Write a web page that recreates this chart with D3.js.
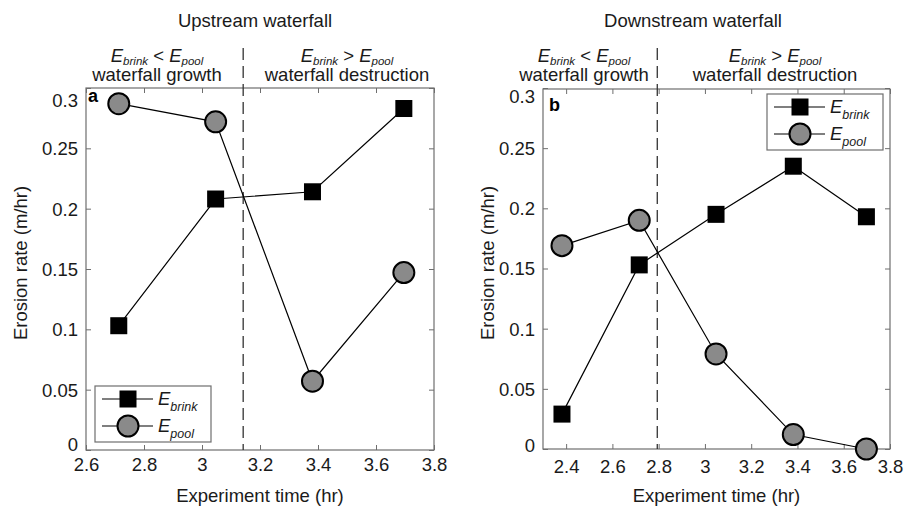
<!DOCTYPE html>
<html>
<head>
<meta charset="utf-8">
<script src="https://cdn.jsdelivr.net/npm/d3@7"></script>
<style>
  html, body { margin: 0; padding: 0; background: #fff; }
  svg { display: block; font-family: "Liberation Sans", Arial, Helvetica, sans-serif; }
</style>
</head>
<body>
<svg id="chart" width="906" height="512"></svg>
<script>
// ---------------- Data ----------------
const upTime    = [2.713, 3.047, 3.381, 3.696];
const upBrink   = [0.103, 0.208, 0.214, 0.283];
const upPool    = [0.287, 0.272, 0.057, 0.147];
const upDivide  = 3.142;

const downTime   = [2.382, 2.716, 3.048, 3.382, 3.698];
const downBrink  = [0.029, 0.153, 0.195, 0.235, 0.193];
const downPool   = [0.169, 0.190, 0.079, 0.012, 0.000];
const downDivide = 2.794;

const yTicks      = [0, 0.05, 0.1, 0.15, 0.2, 0.25, 0.3];
const yTickLabels = ["0", "0.05", "0.1", "0.15", "0.2", "0.25", "0.3"];
const upXTicks      = [2.6, 2.8, 3.0, 3.2, 3.4, 3.6, 3.8];
const upXTickLabels = ["2.6", "2.8", "3", "3.2", "3.4", "3.6", "3.8"];
const downXTicks      = [2.4, 2.6, 2.8, 3.0, 3.2, 3.4, 3.6, 3.8];
const downXTickLabels = ["2.4", "2.6", "2.8", "3", "3.2", "3.4", "3.6", "3.8"];

const titles = ["Upstream waterfall", "Downstream waterfall"];
const xTitle = "Experiment time (hr)";
const yTitle = "Erosion rate (m/hr)";

// ---------------- Drawing ----------------
const svg = d3.select("#chart");
const FS = 18.5;
const AXIS = "#6e6e6e", TXT = "#1a1a1a";

function subText(g, x, y, parts, anchor, subSize, subDy) {
  const t = g.append("text").attr("x", x).attr("y", y)
    .attr("text-anchor", anchor || "middle").attr("fill", TXT).attr("font-size", FS);
  let shifted = false;
  parts.forEach(([s, k]) => {
    const ts = t.append("tspan").text(s);
    if (k === "s") {
      ts.attr("font-style", "italic").attr("font-size", subSize);
      if (!shifted) { ts.attr("dy", subDy); shifted = true; }
    } else {
      if (k === "E") ts.attr("font-style", "italic");
      if (shifted) { ts.attr("dy", -subDy); shifted = false; }
    }
  });
  return t;
}

function panel(cfg) {
  const g = svg.append("g");
  const x = d3.scaleLinear().domain(cfg.xDomain).range([cfg.left, cfg.right]);
  const y = d3.scaleLinear().domain([0, 0.3]).range([cfg.bottom, cfg.top0]);

  // Title
  g.append("text").attr("x", cfg.titleX).attr("y", 27).attr("text-anchor", "middle")
    .attr("font-size", FS).attr("fill", TXT).text(cfg.title);

  // Header annotations
  subText(g, cfg.growX, 62, [["E", "E"], ["brink", "s"], [" < ", "n"], ["E", "E"], ["pool", "s"]], "middle", 11.5, 2.5);
  g.append("text").attr("x", cfg.growX).attr("y", 81).attr("text-anchor", "middle")
    .attr("font-size", FS).attr("fill", TXT).text("waterfall growth");
  subText(g, cfg.destX, 62, [["E", "E"], ["brink", "s"], [" > ", "n"], ["E", "E"], ["pool", "s"]], "middle", 11.5, 2.5);
  g.append("text").attr("x", cfg.destX).attr("y", 81).attr("text-anchor", "middle")
    .attr("font-size", FS).attr("fill", TXT).text("waterfall destruction");

  // Axes (inward ticks on all four sides)
  const xAxisB = d3.axisBottom(x).tickValues(cfg.xTicks).tickSize(-5).tickPadding(10)
    .tickFormat((d, i) => cfg.xLabels[i]);
  const gx = g.append("g").attr("transform", `translate(0,${cfg.bottom})`).call(xAxisB);
  const xAxisT = d3.axisTop(x).tickValues(cfg.xTicks).tickSize(-5).tickFormat("");
  const gxt = g.append("g").attr("transform", `translate(0,${cfg.top})`).call(xAxisT);
  const yAxisL = d3.axisLeft(y).tickValues(yTicks).tickSize(-5).tickPadding(8)
    .tickFormat((d, i) => yTickLabels[i]);
  const gy = g.append("g").attr("transform", `translate(${cfg.left},0)`).call(yAxisL);
  const yAxisR = d3.axisRight(y).tickValues(yTicks).tickSize(-5).tickFormat("");
  const gyr = g.append("g").attr("transform", `translate(${cfg.right},0)`).call(yAxisR);

  [gx, gxt, gy, gyr].forEach(a => {
    a.select(".domain").remove();
    a.selectAll(".tick line").attr("stroke", AXIS).attr("stroke-width", 1);
    a.selectAll(".tick text").attr("font-size", FS).attr("fill", TXT)
      .attr("font-family", "Liberation Sans, Arial, sans-serif");
  });
  gx.selectAll(".tick text").attr("dy", "0.71em").attr("y", cfg.xLabelOff);
  gy.selectAll(".tick text").attr("dy", "0.35em");
  gy.selectAll(".tick text").filter(d => d === 0.3).attr("transform", `translate(0,${cfg.topShift})`);
  gy.selectAll(".tick text").filter(d => d === 0).attr("transform", `translate(0,${cfg.botShift})`);

  // Box
  g.append("rect").attr("x", cfg.left).attr("y", cfg.top)
    .attr("width", cfg.right - cfg.left).attr("height", cfg.bottom - cfg.top)
    .attr("fill", "none").attr("stroke", AXIS).attr("stroke-width", 1.2);

  // Axis titles
  g.append("text").attr("x", (cfg.left + cfg.right) / 2).attr("y", 502).attr("text-anchor", "middle")
    .attr("font-size", FS).attr("fill", TXT).text(xTitle);
  g.append("text").attr("transform", `translate(${cfg.yTitleX},263) rotate(-90)`)
    .attr("text-anchor", "middle").attr("font-size", FS).attr("fill", TXT).text(yTitle);

  // Panel letter
  g.append("text").attr("x", cfg.letterX).attr("y", cfg.letterY).attr("font-size", 18)
    .attr("font-weight", "bold").attr("fill", "#000").text(cfg.letter);

  // Divider
  g.append("line").attr("x1", x(cfg.divide)).attr("x2", x(cfg.divide))
    .attr("y1", 48).attr("y2", cfg.bottom)
    .attr("stroke", "#333").attr("stroke-width", 1.3).attr("stroke-dasharray", "12,6");

  // Series
  const line = d3.line().x(d => x(d[0])).y(d => y(d[1]));
  const brink = cfg.time.map((t, i) => [t, cfg.brink[i]]);
  const pool = cfg.time.map((t, i) => [t, cfg.pool[i]]);
  g.append("path").datum(brink).attr("d", line).attr("fill", "none").attr("stroke", "#000").attr("stroke-width", 1.2);
  g.append("path").datum(pool).attr("d", line).attr("fill", "none").attr("stroke", "#000").attr("stroke-width", 1.2);
  const S = 17;
  g.selectAll(".sq").data(brink).enter().append("rect")
    .attr("x", d => x(d[0]) - S / 2).attr("y", d => y(d[1]) - S / 2)
    .attr("width", S).attr("height", S).attr("fill", "#000");
  g.selectAll(".ci").data(pool).enter().append("circle")
    .attr("cx", d => x(d[0])).attr("cy", d => y(d[1])).attr("r", 10.5)
    .attr("fill", "#8a8a8a").attr("stroke", "#000").attr("stroke-width", 2);

  // Legend
  const L = cfg.legend;
  const lg = g.append("g");
  lg.append("rect").attr("x", L.x).attr("y", L.y).attr("width", L.w).attr("height", L.h)
    .attr("fill", "#fff").attr("stroke", AXIS).attr("stroke-width", 1.2);
  const rows = [L.y + 13, L.y + 40];
  rows.forEach((ry, i) => {
    lg.append("line").attr("x1", L.x + 7).attr("x2", L.x + 58).attr("y1", ry).attr("y2", ry)
      .attr("stroke", "#000").attr("stroke-width", 1.2);
    const mx = L.x + 33;
    if (i === 0) {
      lg.append("rect").attr("x", mx - S / 2).attr("y", ry - S / 2).attr("width", S).attr("height", S).attr("fill", "#000");
    } else {
      lg.append("circle").attr("cx", mx).attr("cy", ry).attr("r", 10.5)
        .attr("fill", "#8a8a8a").attr("stroke", "#000").attr("stroke-width", 2);
    }
    subText(lg, L.x + 63, ry + 6, [["E", "E"], [i === 0 ? "brink" : "pool", "s"]], "start", 12.5, 6);
  });
}

panel({
  title: titles[0], titleX: 255, growX: 157, destX: 347,
  xDomain: [2.6, 3.8], left: 86, right: 434, top: 88, top0: 88, bottom: 450,
  xTicks: upXTicks, xLabels: upXTickLabels, xLabelOff: 8,
  topShift: 12, botShift: -6,
  yTitleX: 27, letter: "a", letterX: 88, letterY: 102,
  divide: upDivide, time: upTime, brink: upBrink, pool: upPool,
  legend: { x: 95, y: 386, w: 116, h: 56 }
});

panel({
  title: titles[1], titleX: 693, growX: 584, destX: 775,
  xDomain: [2.3, 3.8], left: 543, right: 890, top: 89, top0: 88, bottom: 449,
  xTicks: downXTicks, xLabels: downXTickLabels, xLabelOff: 11,
  topShift: 8, botShift: -4,
  yTitleX: 494, letter: "b", letterX: 549, letterY: 111,
  divide: downDivide, time: downTime, brink: downBrink, pool: downPool,
  legend: { x: 767, y: 94, w: 116, h: 56 }
});
</script>
</body>
</html>
